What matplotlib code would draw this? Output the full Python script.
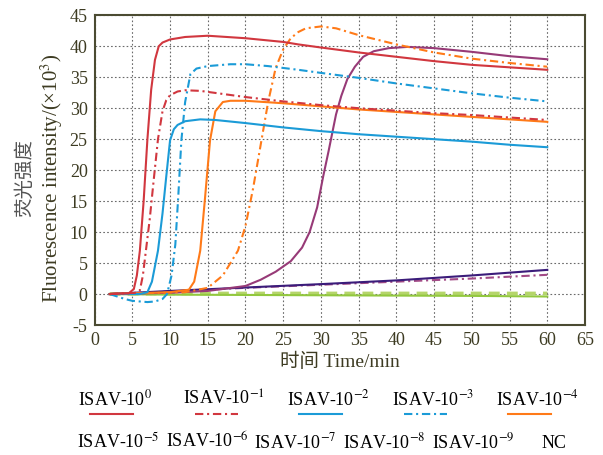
import matplotlib
matplotlib.use('Agg')
import matplotlib.pyplot as plt
from matplotlib.lines import Line2D

plt.rcParams['font.family'] = ['Liberation Serif', 'Noto Sans CJK SC']
plt.rcParams['mathtext.fontset'] = 'stix'
plt.rcParams['axes.unicode_minus'] = False

# ---- data (time in min, intensity x10^3) ----
t_e0 = [2, 4.5, 5.2, 5.6, 6, 6.5, 7, 7.5, 8, 8.5, 9, 10, 12, 15, 20, 25, 27, 30, 35, 40, 45, 50, 55, 60]
y_e0 = [0, 0.1, 0.8, 3, 7, 15, 25, 33, 37.8, 40, 40.6, 41.1, 41.5, 41.7, 41.3, 40.7, 40.3, 39.8, 39, 38.3, 37.6, 37, 36.6, 36.2]

t_e1 = [2, 5.5, 6, 6.4, 6.8, 7.3, 7.8, 8.4, 9, 9.5, 10, 11, 12, 14, 17, 20, 25, 30, 35, 40, 45, 50, 55, 60]
y_e1 = [0, 0.2, 0.6, 3, 7, 12, 18, 25, 29.5, 31.3, 32.1, 32.7, 32.9, 32.8, 32.3, 31.8, 31.1, 30.5, 30, 29.6, 29.2, 28.9, 28.5, 28.1]

t_e2 = [2, 6, 7, 7.6, 8.4, 9, 9.5, 10, 10.5, 11, 12, 14, 16, 20, 25, 30, 35, 40, 45, 50, 55, 60]
y_e2 = [0, 0, 0.3, 2, 7, 13, 19, 24.8, 26.6, 27.3, 27.9, 28.2, 28.1, 27.6, 26.9, 26.3, 25.8, 25.4, 25, 24.6, 24.1, 23.7]

t_e3 = [2, 3, 4, 5, 6, 7, 8, 9, 9.6, 10.2, 10.7, 11.1, 11.5, 12, 12.7, 13.5, 15, 18, 20, 23, 27, 30, 35, 40, 45, 50, 55, 60]
y_e3 = [0, -0.4, -0.8, -1.1, -1.2, -1.3, -1.2, -0.8, 0, 3, 8, 16, 24.8, 31, 35.5, 36.4, 36.8, 37.1, 37.1, 36.8, 36.2, 35.7, 34.9, 34, 33.2, 32.4, 31.7, 31.1]

t_e4 = [2, 10, 12.5, 13.2, 14, 14.6, 15.3, 16, 17, 18, 20, 25, 30, 35, 40, 45, 50, 55, 60]
y_e4 = [0, 0.3, 0.7, 2, 7, 15, 24.8, 29.5, 31, 31.2, 31.2, 30.8, 30.3, 29.8, 29.4, 29, 28.6, 28.2, 27.8]

t_e5 = [2, 12, 15, 17, 19, 20, 21, 22, 23, 24, 25, 26, 27, 28, 30, 32, 35, 40, 45, 50, 55, 60]
y_e5 = [0, 0.3, 1, 3, 7, 11, 17, 24, 31, 36.5, 39.5, 41.3, 42.3, 42.9, 43.2, 42.9, 41.8, 40.3, 39, 38, 37.3, 36.7]

t_e6 = [2, 10, 15, 20, 22, 24, 26, 27.5, 28.5, 29.5, 30.3, 31, 31.5, 32, 32.7, 33.5, 34.5, 35.6, 37, 39, 41.5, 45, 50, 55, 60]
y_e6 = [0, 0.2, 0.5, 1.3, 2.3, 3.6, 5.3, 7.5, 10, 14, 19, 23, 26, 29, 32, 34.7, 36.7, 38.3, 39.2, 39.7, 39.9, 39.7, 39.1, 38.4, 37.9]

t_e7 = [2, 10, 20, 30, 40, 50, 60]
y_e7 = [0, 0.5, 1.05, 1.6, 2.2, 3.0, 3.9]

t_e8 = [2, 10, 20, 30, 40, 50, 60]
y_e8 = [0, 0.4, 1.0, 1.5, 2.0, 2.5, 3.1]

t_e9 = [2, 10, 20, 30, 40, 50, 60]
y_e9 = [0, -0.1, -0.15, -0.2, -0.25, -0.3, -0.4]

t_nc = [2, 10, 20, 30, 40, 50, 60]
y_nc = [0, 0.1, 0.1, 0.1, 0.1, 0.1, 0.1]

labels_row1 = ['ISAV-10$^{0}$', 'ISAV-10$^{-1}$', 'ISAV-10$^{-2}$', 'ISAV-10$^{-3}$', 'ISAV-10$^{-4}$']
labels_row2 = ['ISAV-10$^{-5}$', 'ISAV-10$^{-6}$', 'ISAV-10$^{-7}$', 'ISAV-10$^{-8}$', 'ISAV-10$^{-9}$', 'NC']

red = '#d1373f'
blue = '#1b9bd7'
orange = '#ff7a18'
dark = '#3d3b22'
dd = (4, 1.8, 1, 1.8)

W, H = 603, 455
fig = plt.figure(figsize=(W / 100, H / 100), dpi=100)
ax = fig.add_axes([94.6 / W, 1 - 325 / H, (585 - 94.6) / W, (325 - 15.3) / H])

ax.plot(t_nc, y_nc, color='#b5d56a', lw=2.6, dashes=(3, 2))
ax.plot(t_e9, y_e9, color='#92c83e', lw=1.5)
ax.plot(t_e8, y_e8, color='#a24a86', lw=1.5, dashes=dd)
ax.plot(t_e7, y_e7, color='#3b1c7a', lw=1.5)
ax.plot(t_e6, y_e6, color='#973a77', lw=1.5)
ax.plot(t_e5, y_e5, color=orange, lw=1.5, dashes=dd)
ax.plot(t_e4, y_e4, color=orange, lw=1.5)
ax.plot(t_e3, y_e3, color=blue, lw=1.5, dashes=dd)
ax.plot(t_e2, y_e2, color=blue, lw=1.5)
ax.plot(t_e1, y_e1, color=red, lw=1.5, dashes=dd)
ax.plot(t_e0, y_e0, color=red, lw=1.5)

ax.set_xlim(0, 65)
ax.set_ylim(-5, 45)
ax.set_xticks(range(0, 66, 5))
ax.set_yticks(range(-5, 46, 5))
ax.grid(True, color='#6a6a6a', linestyle=(0, (1.5, 2)), lw=0.8)
ax.set_axisbelow(True)
ax.tick_params(length=0, labelsize=13, colors=dark, pad=5)
for s in ax.spines.values():
    s.set_color('#4b4b32')
    s.set_linewidth(1.5)

ax.set_xlabel('时间 Time/min', fontsize=14, color=dark, labelpad=3)
fig.text(25 / W, 1 - 178 / H, '荧光强度', rotation=90, fontsize=14, color='#555555',
         ha='center', va='center')
fig.text(52 / W, 1 - 178 / H, 'Fluorescence intensity/(×10$^{3}$)', rotation=90, fontsize=15,
         color=dark, ha='center', va='center')

# hand-made legend
row1_x = [78, 183, 287, 392, 496]
row1_c = [red, red, blue, blue, orange]
row1_dash = [None, dd, None, dd, None]
for lx, lab, c, d in zip(row1_x, labels_row1, row1_c, row1_dash):
    fig.text(lx / W, 1 - 405 / H, lab, fontsize=13, color='black', ha='left', va='baseline')
    ln = Line2D([(lx + 12) / W, (lx + 55) / W], [1 - 414 / H] * 2, transform=fig.transFigure,
                color=c, lw=1.5)
    if d:
        ln.set_dashes(d)
    fig.add_artist(ln)

row2_x = [77, 166, 254, 343, 432, 542]
for lx, lab in zip(row2_x, labels_row2):
    fig.text(lx / W, 1 - 448 / H, lab, fontsize=13, color='black', ha='left', va='baseline')

fig.savefig('out.png', dpi=100)
